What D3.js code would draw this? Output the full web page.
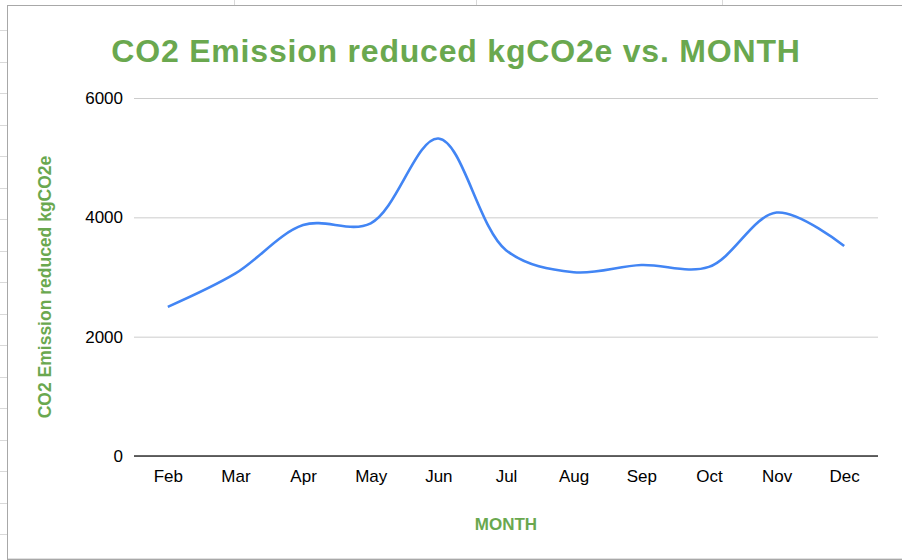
<!DOCTYPE html>
<html>
<head>
<meta charset="utf-8">
<script src="https://cdn.jsdelivr.net/npm/d3@7"></script>
<style>
  body { margin: 0; background: #fff; }
  svg { display: block; font-family: "Liberation Sans", Arial, sans-serif; }
</style>
</head>
<body>
<div id="chart"></div>
<script>
// data
var months = ['Feb', 'Mar', 'Apr', 'May', 'Jun', 'Jul', 'Aug', 'Sep', 'Oct', 'Nov', 'Dec'];
var reduced = [2500, 3060, 3870, 3900, 5320, 3450, 3080, 3200, 3170, 4080, 3520];
var yTicks = [0, 2000, 4000, 6000];

var W = 902, H = 560;
var margin = {top: 98, right: 24, bottom: 104, left: 134};
var width = W - margin.left - margin.right;
var height = H - margin.top - margin.bottom;
var green = '#6aa84f';

var svg = d3.select('#chart')
    .append('svg')
    .attr('width', W)
    .attr('height', H);

// spreadsheet cells peeking out round the chart object
var sheet = svg.append('g').attr('class', 'sheet');
sheet.selectAll('line.row')
    .data(d3.range(30, H, 31.5))
    .enter()
    .append('line')
    .attr('class', 'row')
    .attr('x1', 0).attr('x2', 7)
    .attr('y1', function(d) { return Math.round(d) + 0.5; })
    .attr('y2', function(d) { return Math.round(d) + 0.5; })
    .attr('stroke', '#d9d9d9');
sheet.selectAll('line.col')
    .data([234, 476, 722])
    .enter()
    .append('line')
    .attr('class', 'col')
    .attr('x1', function(d) { return d + 0.5; })
    .attr('x2', function(d) { return d + 0.5; })
    .attr('y1', 0).attr('y2', 5)
    .attr('stroke', '#d9d9d9');

// chart object frame
svg.append('rect')
    .attr('x', 7.5)
    .attr('y', 5.5)
    .attr('width', W)
    .attr('height', H - 6)
    .attr('fill', '#fff')
    .attr('stroke', '#a8a8a8');
svg.append('line')
    .attr('x1', 8).attr('x2', W)
    .attr('y1', H - 1.5).attr('y2', H - 1.5)
    .attr('stroke', '#e0e0e0');

var g = svg.append('g')
    .attr('transform', `translate(${margin.left},${margin.top})`);

var x = d3.scalePoint()
    .domain(months)
    .range([0, width])
    .padding(0.5);

var y = d3.scaleLinear()
    .domain([0, 6000])
    .range([height, 0]);

// gridlines
g.append('g')
    .attr('class', 'grid')
    .call(d3.axisLeft(y).tickValues(yTicks).tickSize(-width).tickFormat(''))
    .call(function(a) {
        a.select('.domain').remove();
        a.selectAll('line').attr('stroke', '#cccccc').attr('stroke-width', 1);
    });

// y tick labels
g.append('g')
    .attr('class', 'y axis')
    .call(d3.axisLeft(y).tickValues(yTicks).tickSize(0).tickPadding(11).tickFormat(d3.format('d')))
    .call(function(a) {
        a.select('.domain').remove();
        a.selectAll('text')
            .attr('fill', '#000')
            .style('font-size', '17px')
            .style('font-family', '"Liberation Sans", Arial, sans-serif');
    });

// x axis
g.append('g')
    .attr('class', 'x axis')
    .attr('transform', `translate(0,${height})`)
    .call(d3.axisBottom(x).tickSize(0).tickPadding(14))
    .call(function(a) {
        a.select('.domain').remove();
        a.selectAll('text')
            .attr('fill', '#000')
            .style('font-size', '17px')
            .style('font-family', '"Liberation Sans", Arial, sans-serif');
    });

g.append('line')
    .attr('x1', 0).attr('x2', width)
    .attr('y1', height).attr('y2', height)
    .attr('stroke', '#333')
    .attr('stroke-width', 1.4);

var line = d3.line()
    .x(function(d, i) { return x(months[i]); })
    .y(function(d) { return y(d); })
    .curve(d3.curveCatmullRom.alpha(0.5));

g.append('path')
    .datum(reduced)
    .attr('fill', 'none')
    .attr('stroke', '#4285f4')
    .attr('stroke-width', 2.6)
    .attr('stroke-linejoin', 'round')
    .attr('d', line);

// titles
svg.append('text')
    .attr('x', 456)
    .attr('y', 62)
    .attr('text-anchor', 'middle')
    .attr('fill', green)
    .style('font-size', '32px')
    .style('font-weight', 'bold')
    .style('letter-spacing', '0.8px')
    .text('CO2 Emission reduced kgCO2e vs. MONTH');

svg.append('text')
    .attr('transform', 'translate(51,287) rotate(-90)')
    .attr('text-anchor', 'middle')
    .attr('fill', green)
    .style('font-size', '17.5px')
    .style('font-weight', 'bold')
    .text('CO2 Emission reduced kgCO2e');

svg.append('text')
    .attr('x', margin.left + width / 2)
    .attr('y', 530)
    .attr('text-anchor', 'middle')
    .attr('fill', green)
    .style('font-size', '17px')
    .style('font-weight', 'bold')
    .text('MONTH');
</script>
</body>
</html>
